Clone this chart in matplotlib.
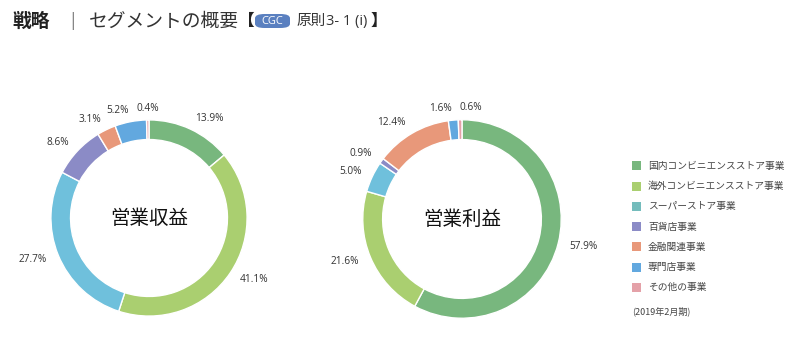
import numpy as np
import matplotlib
matplotlib.use("Agg")
import matplotlib.pyplot as plt
from matplotlib.patches import FancyBboxPatch, Rectangle

plt.rcParams['font.family'] = ['Noto Sans CJK JP', 'DejaVu Sans']
num_font = ['Open Sans', 'Noto Sans CJK JP']

segments = ["国内コンビニエンスストア事業", "海外コンビニエンスストア事業",
            "スーパーストア事業", "百貨店事業", "金融関連事業",
            "専門店事業", "その他の事業"]
colors = ["#78b77e", "#aacf70", "#6fc0dc", "#8b8bc6", "#e8987a", "#62a8df", "#e4a1a8"]
legend_colors = ["#78b77e", "#aacf70", "#74bcbc", "#8b8bc6", "#e8987a", "#62a8df", "#e4a1a8"]

revenue = [13.9, 41.1, 27.7, 8.6, 3.1, 5.2, 0.4]
profit = [57.9, 21.6, 5.0, 0.9, 12.4, 1.6, 0.6]
titles = ["営業収益", "営業利益"]
period = "(2019年2月期)"

W, H = 800, 353
fig = plt.figure(figsize=(W / 100, H / 100), dpi=100)


def px_axes(cx, cy, size):
    # axes centred on pixel (cx, cy), square of `size` px
    return fig.add_axes([(cx - size / 2) / W, 1 - (cy + size / 2) / H, size / W, size / H])


def donut(ax, values, label, ha_override):
    ax.pie(values, colors=colors, startangle=90, counterclock=False, radius=1.0,
           wedgeprops=dict(width=0.2, edgecolor="white", linewidth=1.0))
    ax.set_xlim(-1.3, 1.3)
    ax.set_ylim(-1.3, 1.3)
    ax.set_aspect("equal")
    ax.axis("off")
    ax.text(0, 0, label, ha="center", va="center", fontsize=14, color="#111111")
    cum = np.cumsum([0] + list(values))
    for i, v in enumerate(values):
        mid = (cum[i] + v / 2) / 100 * 2 * np.pi
        x, y = 1.12 * np.sin(mid), 1.12 * np.cos(mid)
        ha = ha_override[i] or ("left" if x > 0 else "right")
        ax.text(x, y, f"{v:.1f}%", ha=ha, va="center", fontsize=7.3,
                color="#333333", family=num_font)


ax1 = px_axes(149, 218, 255)
donut(ax1, revenue, titles[0], [None] * 6 + ["center"])
ax2 = px_axes(462, 219, 258)
donut(ax2, profit, titles[1], [None] * 6 + ["left"])

# title line
fig.text(12 / W, 1 - 21 / H, "戦略", fontsize=13.5, fontweight="bold", color="#222222", va="center")
fig.text(70 / W, 1 - 21 / H, "|", fontsize=12, color="#777777", va="center")
fig.text(89 / W, 1 - 21 / H, "セグメントの概要", fontsize=13.5, color="#333333", va="center")
fig.text(238 / W, 1 - 21 / H, "【", fontsize=12, color="#222222", va="center", fontweight="bold")
box = FancyBboxPatch((255 / W, 1 - 28 / H), 35 / W, 14 / H,
                     boxstyle="round,pad=0,rounding_size=0.012",
                     transform=fig.transFigure, facecolor="#5a80c0", edgecolor="none")
fig.patches.append(box)
fig.text(272.5 / W, 1 - 21 / H, "CGC", fontsize=8, color="white", ha="center", va="center",
         family=num_font)
fig.text(296 / W, 1 - 21 / H, "原則", fontsize=10.5, color="#333333", va="center")
fig.text(326 / W, 1 - 21 / H, "3- 1 (i)", fontsize=10.5, color="#333333", va="center",
         family=num_font)
fig.text(371 / W, 1 - 21 / H, "】", fontsize=12, color="#222222", va="center", fontweight="bold")

# legend
for i, (name, c) in enumerate(zip(segments, legend_colors)):
    yc = 166 + i * 20.2
    fig.patches.append(Rectangle((632 / W, 1 - (yc + 4.5) / H), 9 / W, 9 / H,
                                 transform=fig.transFigure, facecolor=c, edgecolor="none"))
    fig.text(648 / W, 1 - yc / H, name, fontsize=7, color="#444444", va="center")
fig.text(632 / W, 1 - 311 / H, period, fontsize=6.5, color="#444444", va="center")

fig.savefig("out.png", dpi=100, facecolor="white")
